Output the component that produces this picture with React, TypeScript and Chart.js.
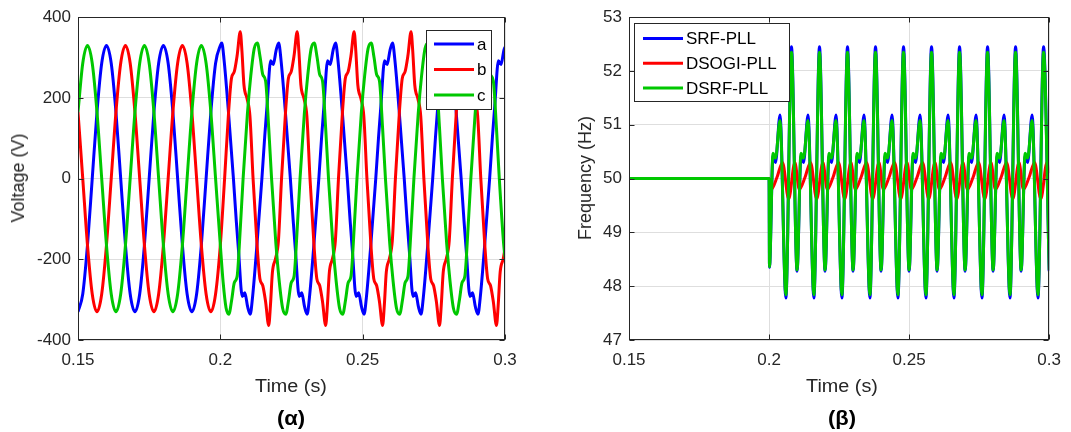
import React, { useEffect, useRef } from 'react';
import { Chart, registerables } from 'chart.js';

Chart.register(...registerables);

const FONT = "'Liberation Sans', Arial, Helvetica, sans-serif";
const AXIS = '#262626';
const GRID = '#dedede';
const BLUE = '#0000ff';
const RED = '#ff0000';
const GREEN = '#00c800';

// ---------- shared axis labels ----------
const timeTickLabels = ['0.15', '0.2', '0.25', '0.3'];
const voltageTickLabels = ['-400', '-200', '0', '200', '400'];
const freqTickLabels = ['47', '48', '49', '50', '51', '52', '53'];
const phaseLabels = ['a', 'b', 'c'];
const pllLabels = ['SRF-PLL', 'DSOGI-PLL', 'DSRF-PLL'];

// ---------- panel (α): three-phase voltages, time in ms ----------
const preTimeMs = [150, 151.67, 153.33, 155, 156.67, 158.33, 160, 161.67, 163.33, 165, 166.67, 168.33, 170, 171.67, 173.33, 175, 176.67, 178.33, 180, 181.67, 183.33, 185, 186.67, 188.33, 190, 191.67, 193.33, 195, 196.67, 198.33, 200];
const phaseAPreV = [-330, -286, -165, 0, 165, 286, 330, 286, 165, 0, -165, -286, -330, -286, -165, 0, 165, 286, 330, 286, 165, 0, -165, -286, -330, -286, -165, 0, 165, 286, 330];
const phaseBPreV = [165, 0, -165, -286, -330, -286, -165, 0, 165, 286, 330, 286, 165, 0, -165, -286, -330, -286, -165, 0, 165, 286, 330, 286, 165, 0, -165, -286, -330, -286, -165];
const phaseCPreV = [165, 286, 330, 286, 165, 0, -165, -286, -330, -286, -165, 0, 165, 286, 330, 286, 165, 0, -165, -286, -330, -286, -165, 0, 165, 286, 330, 286, 165, 0, -165];

const phaseAPostT = [
  200.5, 201.3, 202.8, 204.6, 205.6, 206.4, 207.7, 208.6, 209.6, 210.5, 211.3, 212.8, 214.6,
  215.6, 216.4, 217.7, 218.6, 219.6, 220.5, 221.3, 222.8, 224.6, 225.6, 226.4, 227.7, 228.6, 229.6, 230.5, 231.3, 232.8, 234.6,
  235.6, 236.4, 237.7, 238.6, 239.6, 240.5, 241.3, 242.8, 244.6, 245.6, 246.4, 247.7, 248.6, 249.6, 250.5, 251.3, 252.8, 254.6,
  255.6, 256.4, 257.7, 258.6, 259.6, 260.5, 261.3, 262.8, 264.6, 265.6, 266.4, 267.7, 268.6, 269.6, 270.5, 271.3, 272.8, 274.6,
  275.6, 276.4, 277.7, 278.6, 279.6, 280.5, 281.3, 282.8, 284.6, 285.6, 286.4, 287.7, 288.6, 289.6, 290.5, 291.3, 292.8, 294.6,
  295.6, 296.4, 297.7, 298.6, 299.6, 300,
];
const phaseAPostV = [
  336, 295, 170, 0, -105, -180, -292, -283, -318, -336, -295, -170, 0,
  105, 180, 292, 283, 318, 336, 295, 170, 0, -105, -180, -292, -283, -318, -336, -295, -170, 0,
  105, 180, 292, 283, 318, 336, 295, 170, 0, -105, -180, -292, -283, -318, -336, -295, -170, 0,
  105, 180, 292, 283, 318, 336, 295, 170, 0, -105, -180, -292, -283, -318, -336, -295, -170, 0,
  105, 180, 292, 283, 318, 336, 295, 170, 0, -105, -180, -292, -283, -318, -336, -295, -170, 0,
  105, 180, 292, 283, 318, 326,
];

const phaseBPostT = [
  201.5,
  202.9, 203.9, 204.9, 205.9, 207.0, 207.6, 208.3, 209.4, 210.4, 211.5, 212.9, 213.9, 214.9, 215.9, 217.0, 217.6, 218.3, 219.4, 220.4, 221.5,
  222.9, 223.9, 224.9, 225.9, 227.0, 227.6, 228.3, 229.4, 230.4, 231.5, 232.9, 233.9, 234.9, 235.9, 237.0, 237.6, 238.3, 239.4, 240.4, 241.5,
  242.9, 243.9, 244.9, 245.9, 247.0, 247.6, 248.3, 249.4, 250.4, 251.5, 252.9, 253.9, 254.9, 255.9, 257.0, 257.6, 258.3, 259.4, 260.4, 261.5,
  262.9, 263.9, 264.9, 265.9, 267.0, 267.6, 268.3, 269.4, 270.4, 271.5, 272.9, 273.9, 274.9, 275.9, 277.0, 277.6, 278.3, 279.4, 280.4, 281.5,
  282.9, 283.9, 284.9, 285.9, 287.0, 287.6, 288.3, 289.4, 290.4, 291.5, 292.9, 293.9, 294.9, 295.9, 297.0, 297.6, 298.3, 299.4, 300,
];
const phaseBPostV = [
  0,
  165, 248, 265, 305, 364, 315, 232, 198, 155, 0, -165, -248, -265, -305, -364, -315, -232, -198, -155, 0,
  165, 248, 265, 305, 364, 315, 232, 198, 155, 0, -165, -248, -265, -305, -364, -315, -232, -198, -155, 0,
  165, 248, 265, 305, 364, 315, 232, 198, 155, 0, -165, -248, -265, -305, -364, -315, -232, -198, -155, 0,
  165, 248, 265, 305, 364, 315, 232, 198, 155, 0, -165, -248, -265, -305, -364, -315, -232, -198, -155, 0,
  165, 248, 265, 305, 364, 315, 232, 198, 155, 0, -165, -248, -265, -305, -364, -315, -232, -198, -172,
];

const phaseCPostT = [
  201.0, 202.0, 203.0, 204.0, 204.9, 205.9, 207.0, 208.0,
  209.5, 210.7, 211.9, 213.0, 214.0, 214.9, 215.9, 217.0, 218.0, 219.5, 220.7, 221.9, 223.0, 224.0, 224.9, 225.9, 227.0, 228.0,
  229.5, 230.7, 231.9, 233.0, 234.0, 234.9, 235.9, 237.0, 238.0, 239.5, 240.7, 241.9, 243.0, 244.0, 244.9, 245.9, 247.0, 248.0,
  249.5, 250.7, 251.9, 253.0, 254.0, 254.9, 255.9, 257.0, 258.0, 259.5, 260.7, 261.9, 263.0, 264.0, 264.9, 265.9, 267.0, 268.0,
  269.5, 270.7, 271.9, 273.0, 274.0, 274.9, 275.9, 277.0, 278.0, 279.5, 280.7, 281.9, 283.0, 284.0, 284.9, 285.9, 287.0, 288.0,
  289.5, 290.7, 291.9, 293.0, 294.0, 294.9, 295.9, 297.0, 298.0, 299.5, 300,
];
const phaseCPostV = [
  -258, -320, -336, -300, -258, -242, -125, 0,
  160, 255, 322, 336, 300, 258, 242, 125, 0, -160, -255, -322, -336, -300, -258, -242, -125, 0,
  160, 255, 322, 336, 300, 258, 242, 125, 0, -160, -255, -322, -336, -300, -258, -242, -125, 0,
  160, 255, 322, 336, 300, 258, 242, 125, 0, -160, -255, -322, -336, -300, -258, -242, -125, 0,
  160, 255, 322, 336, 300, 258, 242, 125, 0, -160, -255, -322, -336, -300, -258, -242, -125, 0,
  160, 255, 322, 336, 300, 258, 242, 125, 0, -160, -195,
];

// ---------- panel (β): PLL frequency estimates, time in ms ----------
const freqPreT = [150, 200];
const srfPreV = [50, 50];
const dsogiPreV = [50, 50];
const dsrfPreV = [50, 50];

const srfPostT = [
  200.15,
  201.4, 202.3, 203.9, 206, 208, 210,
  211.4, 212.3, 213.9, 216, 218, 220,
  221.4, 222.3, 223.9, 226, 228, 230,
  231.4, 232.3, 233.9, 236, 238, 240,
  241.4, 242.3, 243.9, 246, 248, 250,
  251.4, 252.3, 253.9, 256, 258, 260,
  261.4, 262.3, 263.9, 266, 268, 270,
  271.4, 272.3, 273.9, 276, 278, 280,
  281.4, 282.3, 283.9, 286, 288, 290,
  291.4, 292.3, 293.9, 296, 298, 300,
];
const srfPostV = [
  48.35,
  50.42, 50.3, 51.18, 47.78, 52.45, 48.28,
  50.42, 50.3, 51.18, 47.78, 52.45, 48.28,
  50.42, 50.3, 51.18, 47.78, 52.45, 48.28,
  50.42, 50.3, 51.18, 47.78, 52.45, 48.28,
  50.42, 50.3, 51.18, 47.78, 52.45, 48.28,
  50.42, 50.3, 51.18, 47.78, 52.45, 48.28,
  50.42, 50.3, 51.18, 47.78, 52.45, 48.28,
  50.42, 50.3, 51.18, 47.78, 52.45, 48.28,
  50.42, 50.3, 51.18, 47.78, 52.45, 48.28,
  50.42, 50.3, 51.18, 47.78, 52.45, 48.28,
];
const dsrfPostV = [
  48.36,
  50.47, 50.38, 51.08, 47.84, 52.35, 48.3,
  50.47, 50.38, 51.08, 47.84, 52.35, 48.3,
  50.47, 50.38, 51.08, 47.84, 52.35, 48.3,
  50.47, 50.38, 51.08, 47.84, 52.35, 48.3,
  50.47, 50.38, 51.08, 47.84, 52.35, 48.3,
  50.47, 50.38, 51.08, 47.84, 52.35, 48.3,
  50.47, 50.38, 51.08, 47.84, 52.35, 48.3,
  50.47, 50.38, 51.08, 47.84, 52.35, 48.3,
  50.47, 50.38, 51.08, 47.84, 52.35, 48.3,
  50.47, 50.38, 51.08, 47.84, 52.35, 48.3,
];

const dsogiPostT = [
  200.8, 202.8, 204.8, 207, 209.2,
  210.8, 212.8, 214.8, 217, 219.2,
  220.8, 222.8, 224.8, 227, 229.2,
  230.8, 232.8, 234.8, 237, 239.2,
  240.8, 242.8, 244.8, 247, 249.2,
  250.8, 252.8, 254.8, 257, 259.2,
  260.8, 262.8, 264.8, 267, 269.2,
  270.8, 272.8, 274.8, 277, 279.2,
  280.8, 282.8, 284.8, 287, 289.2,
  290.8, 292.8, 294.8, 297, 299.2,
  300,
];
const dsogiPostV = [
  49.8, 50.02, 50.3, 49.62, 50.3,
  49.8, 50.02, 50.3, 49.62, 50.3,
  49.8, 50.02, 50.3, 49.62, 50.3,
  49.8, 50.02, 50.3, 49.62, 50.3,
  49.8, 50.02, 50.3, 49.62, 50.3,
  49.8, 50.02, 50.3, 49.62, 50.3,
  49.8, 50.02, 50.3, 49.62, 50.3,
  49.8, 50.02, 50.3, 49.62, 50.3,
  49.8, 50.02, 50.3, 49.62, 50.3,
  49.8, 50.02, 50.3, 49.62, 50.3,
  50.1,
];

// ---------- helpers ----------
function toPoints(t: number[], v: number[]) {
  return t.map((x, i) => ({ x, y: v[i] }));
}

function series(label: string, color: string, t: number[], v: number[], order: number) {
  return {
    label,
    data: toPoints(t, v),
    borderColor: color,
    backgroundColor: color,
    borderWidth: 3,
    pointRadius: 0,
    fill: false,
    cubicInterpolationMode: 'monotone',
    order,
  };
}

const boxPlugin = {
  id: 'matlabBox',
  afterDatasetsDraw(chart: any) {
    const { ctx, chartArea: a, scales } = chart;
    ctx.save();
    ctx.strokeStyle = AXIS;
    ctx.lineWidth = 1;
    const L = Math.round(a.left) + 0.5;
    const R = Math.round(a.right) - 0.5;
    const T = Math.round(a.top) + 0.5;
    const B = Math.round(a.bottom) - 0.5;
    ctx.strokeRect(L, T, R - L, B - T);
    const tl = 5;
    ctx.beginPath();
    scales.x.ticks.forEach((tk: any) => {
      const px = Math.round(scales.x.getPixelForValue(tk.value)) + 0.5;
      ctx.moveTo(px, B); ctx.lineTo(px, B - tl);
      ctx.moveTo(px, T); ctx.lineTo(px, T + tl);
    });
    scales.y.ticks.forEach((tk: any) => {
      const py = Math.round(scales.y.getPixelForValue(tk.value)) + 0.5;
      ctx.moveTo(L, py); ctx.lineTo(L + tl, py);
      ctx.moveTo(R, py); ctx.lineTo(R - tl, py);
    });
    ctx.stroke();
    ctx.restore();
  },
};

function makeLegend(cfg: {
  labels: string[]; colors: string[]; fromRight: boolean; dx: number; dy: number;
  w: number; h: number; lineStart: number; lineEnd: number; textX: number; firstRow: number; rowGap: number;
}) {
  return {
    id: 'boxLegend',
    afterDraw(chart: any) {
      const { ctx, chartArea: a } = chart;
      const x0 = Math.round(cfg.fromRight ? a.right - cfg.dx - cfg.w : a.left + cfg.dx);
      const y0 = Math.round(a.top + cfg.dy);
      ctx.save();
      ctx.fillStyle = '#ffffff';
      ctx.fillRect(x0, y0, cfg.w, cfg.h);
      ctx.strokeStyle = AXIS;
      ctx.lineWidth = 1;
      ctx.strokeRect(x0 + 0.5, y0 + 0.5, cfg.w - 1, cfg.h - 1);
      cfg.labels.forEach((lab, i) => {
        const y = y0 + cfg.firstRow + i * cfg.rowGap;
        ctx.strokeStyle = cfg.colors[i];
        ctx.lineWidth = 3;
        ctx.beginPath();
        ctx.moveTo(x0 + cfg.lineStart, y);
        ctx.lineTo(x0 + cfg.lineEnd, y);
        ctx.stroke();
        ctx.fillStyle = '#000000';
        ctx.font = `17px ${FONT}`;
        ctx.textBaseline = 'middle';
        ctx.textAlign = 'left';
        ctx.fillText(lab, x0 + cfg.textX, y + 1);
      });
      ctx.restore();
    },
  };
}

function xScale() {
  return {
    type: 'linear',
    min: 150,
    max: 300,
    ticks: {
      stepSize: 50,
      autoSkip: false,
      maxRotation: 0,
      padding: 10,
      color: AXIS,
      font: { family: FONT, size: 17 },
      callback: (_v: any, i: number) => timeTickLabels[i],
    },
    grid: { color: GRID, drawTicks: false, lineWidth: 1 },
    border: { display: false },
    afterFit: (s: any) => { s.height = 92; },
  };
}

function yScale(min: number, max: number, step: number, labels: string[], width: number) {
  return {
    type: 'linear',
    min,
    max,
    ticks: {
      stepSize: step,
      autoSkip: false,
      padding: 7,
      color: AXIS,
      font: { family: FONT, size: 17 },
      callback: (_v: any, i: number) => labels[i],
    },
    grid: { color: GRID, drawTicks: false, lineWidth: 1 },
    border: { display: false },
    afterFit: (s: any) => { s.width = width; },
  };
}

function leftConfig(): any {
  return {
    type: 'line',
    data: {
      datasets: [
        series(phaseLabels[0], BLUE, [...preTimeMs, ...phaseAPostT], [...phaseAPreV, ...phaseAPostV], 3),
        series(phaseLabels[1], RED, [...preTimeMs, ...phaseBPostT], [...phaseBPreV, ...phaseBPostV], 2),
        series(phaseLabels[2], GREEN, [...preTimeMs, ...phaseCPostT], [...phaseCPreV, ...phaseCPostV], 1),
      ],
    },
    options: {
      animation: false,
      responsive: false,
      maintainAspectRatio: false,
      events: [],
      layout: { padding: { top: 16, right: 31, left: 0, bottom: 0 } },
      plugins: { legend: { display: false }, tooltip: { enabled: false }, title: { display: false } },
      scales: {
        x: xScale(),
        y: yScale(-400, 400, 200, voltageTickLabels, 78),
      },
    },
    plugins: [
      boxPlugin,
      makeLegend({
        labels: phaseLabels, colors: [BLUE, RED, GREEN], fromRight: true, dx: 13, dy: 13,
        w: 66, h: 80, lineStart: 8, lineEnd: 48, textX: 51, firstRow: 14, rowGap: 25.5,
      }),
    ],
  };
}

function rightConfig(): any {
  return {
    type: 'line',
    data: {
      datasets: [
        series(pllLabels[0], BLUE, [...freqPreT, ...srfPostT], [...srfPreV, ...srfPostV], 3),
        series(pllLabels[1], RED, [...freqPreT, ...dsogiPostT], [...dsogiPreV, ...dsogiPostV], 2),
        series(pllLabels[2], GREEN, [...freqPreT, ...srfPostT], [...dsrfPreV, ...dsrfPostV], 1),
      ],
    },
    options: {
      animation: false,
      responsive: false,
      maintainAspectRatio: false,
      events: [],
      layout: { padding: { top: 16, right: 15, left: 0, bottom: 0 } },
      plugins: { legend: { display: false }, tooltip: { enabled: false }, title: { display: false } },
      scales: {
        x: xScale(),
        y: yScale(47, 53, 1, freqTickLabels, 93),
      },
    },
    plugins: [
      boxPlugin,
      makeLegend({
        labels: pllLabels, colors: [BLUE, RED, GREEN], fromRight: false, dx: 5, dy: 6,
        w: 156, h: 79, lineStart: 9, lineEnd: 49, textX: 52, firstRow: 15.5, rowGap: 24.8,
      }),
    ],
  };
}

const textBase: React.CSSProperties = {
  position: 'absolute',
  fontFamily: FONT,
  color: AXIS,
  whiteSpace: 'nowrap',
  lineHeight: 1,
};

function Label(props: { x: number; y: number; size: number; bold?: boolean; rotate?: boolean; sx?: number; color?: string; children: React.ReactNode }) {
  const { x, y, size, bold, rotate, sx, color, children } = props;
  const tf = rotate
    ? 'translate(-50%, -50%) rotate(-90deg)'
    : `translate(-50%, -50%) scaleX(${sx ?? 1})`;
  return (
    <div style={{ ...textBase, left: x, top: y, fontSize: size, fontWeight: bold ? 700 : 400, color: color ?? AXIS, transform: tf }}>
      {children}
    </div>
  );
}

export default function App() {
  const leftRef = useRef<HTMLCanvasElement>(null);
  const rightRef = useRef<HTMLCanvasElement>(null);

  useEffect(() => {
    const c1 = new Chart(leftRef.current as HTMLCanvasElement, leftConfig());
    const c2 = new Chart(rightRef.current as HTMLCanvasElement, rightConfig());
    return () => {
      c1.destroy();
      c2.destroy();
    };
  }, []);

  return (
    <div style={{ position: 'absolute', left: 0, top: 0, width: 1071, height: 432, background: '#ffffff', overflow: 'hidden' }}>
      <canvas ref={leftRef} width={536} height={432} style={{ position: 'absolute', left: 0, top: 0, width: 536, height: 432 }} />
      <canvas ref={rightRef} width={535} height={432} style={{ position: 'absolute', left: 536, top: 0, width: 535, height: 432 }} />
      <Label x={18} y={178} size={18} rotate>Voltage (V)</Label>
      <Label x={291} y={386} size={18} sx={1.1}>Time (s)</Label>
      <Label x={291} y={418} size={20} bold sx={1.1} color="#000000">(α)</Label>
      <Label x={585} y={178} size={18} rotate>Frequency (Hz)</Label>
      <Label x={842} y={386} size={18} sx={1.1}>Time (s)</Label>
      <Label x={842} y={418} size={20} bold sx={1.1} color="#000000">(β)</Label>
    </div>
  );
}
